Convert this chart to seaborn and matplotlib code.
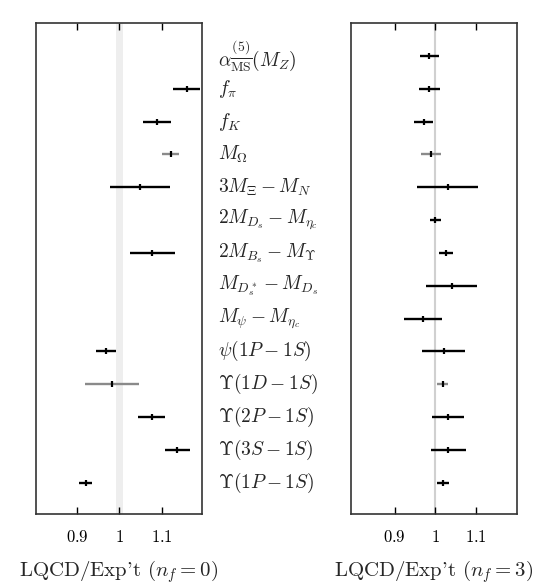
import numpy as np
import pandas as pd
import matplotlib
matplotlib.use("Agg")
import matplotlib.pyplot as plt
import seaborn as sns
from matplotlib.transforms import blended_transform_factory

# ---------------- data ----------------
quantities = [
    r'$\alpha_{\overline{\mathrm{MS}}}^{(5)}(M_Z)$',
    r'$f_\pi$',
    r'$f_K$',
    r'$M_\Omega$',
    r'$3M_\Xi - M_N$',
    r'$2M_{D_s} - M_{\eta_c}$',
    r'$2M_{B_s} - M_\Upsilon$',
    r'$M_{D_s^*} - M_{D_s}$',
    r'$M_\psi - M_{\eta_c}$',
    r'$\psi(1P - 1S)$',
    r'$\Upsilon(1D - 1S)$',
    r'$\Upsilon(2P - 1S)$',
    r'$\Upsilon(3S - 1S)$',
    r'$\Upsilon(1P - 1S)$',
]
nan = np.nan
ratio_nf0 = [nan, 1.158, 1.088, 1.120, 1.048, nan, 1.077, nan, nan, 0.968, 0.982, 1.076, 1.136, 0.921]
err_nf0 = [nan, 0.031, 0.032, 0.020, 0.070, nan, 0.053, nan, nan, 0.023, 0.063, 0.032, 0.030, 0.015]
ratio_nf3 = [0.985, 0.985, 0.971, 0.989, 1.030, 1.000, 1.026, 1.040, 0.969, 1.020, 1.018, 1.030, 1.031, 1.018]
err_nf3 = [0.024, 0.026, 0.023, 0.025, 0.074, 0.014, 0.017, 0.063, 0.047, 0.053, 0.013, 0.039, 0.043, 0.015]
tick_values = [0.9, 1.0, 1.1]
tick_labels = [r'$0.9$', r'$1$', r'$1.1$']
xlabels = [r"LQCD/Exp't ($n_f = 0$)", r"LQCD/Exp't ($n_f = 3$)"]

# styling (not data)
faint_nf0 = {3, 10}
faint_nf3 = {3, 10}

sns.set_style("white")
plt.rcParams['font.family'] = ['cmr10', 'DejaVu Serif']
plt.rcParams['mathtext.fontset'] = 'cm'
plt.rcParams['axes.unicode_minus'] = False

fig = plt.figure(figsize=(5.39, 5.88), dpi=100)
W, H = 539, 588
def axrect(x0, x1, y0, y1):
    return [x0 / W, 1 - y1 / H, (x1 - x0) / W, (y1 - y0) / H]

ax1 = fig.add_axes(axrect(36, 202, 23, 514))
ax2 = fig.add_axes(axrect(351, 517, 23, 514))

rows = np.arange(len(quantities))

def draw(ax, vals, errs, faint, xlim, band_lw, band_color, xlabel):
    ax.axvline(1.0, color=band_color, lw=band_lw, zorder=0)
    df = pd.DataFrame({"row": rows, "ratio": vals, "err": errs})
    df["faint"] = [r in faint for r in rows]
    for is_faint, sub in df.dropna().groupby("faint"):
        col = "#8a8a8a" if is_faint else "black"
        ax.errorbar(sub["ratio"], sub["row"], xerr=sub["err"], fmt="none",
                    ecolor=col, elinewidth=1.7, capsize=0, zorder=2)
    sns.scatterplot(data=df.dropna(), x="ratio", y="row", ax=ax, marker="|",
                    s=18, color="black", linewidth=1.6, zorder=3, legend=False)
    ax.set_xlim(*xlim)
    ax.set_ylim(13.95, -1.0)
    ax.set_yticks([])
    ax.set_xticks(tick_values)
    ax.set_xticklabels(tick_labels, fontsize=12)
    ax.tick_params(axis="x", direction="in", length=5, width=1.0, top=True,
                   bottom=True, pad=11, colors="black")
    ax.set_xlabel(xlabel, fontsize=15)
    ax.xaxis.label.set_va("center")
    ax.xaxis.set_label_coords(0.5, -0.118)
    ax.set_ylabel("")
    for s in ax.spines.values():
        s.set_visible(True)
        s.set_color("#333333")
        s.set_linewidth(1.2)

draw(ax1, ratio_nf0, err_nf0, faint_nf0, (0.804, 1.194), 5, "#eeeeee", xlabels[0])
draw(ax2, ratio_nf3, err_nf3, faint_nf3, (0.793, 1.200), 1.5, "#d0d0d0", xlabels[1])

tr = blended_transform_factory(ax1.transAxes, ax1.transData)
for i, lab in enumerate(quantities):
    ax1.text(1.096, i, lab, transform=tr, fontsize=14, ha="left", va="center")

fig.savefig("out.png", dpi=100)
